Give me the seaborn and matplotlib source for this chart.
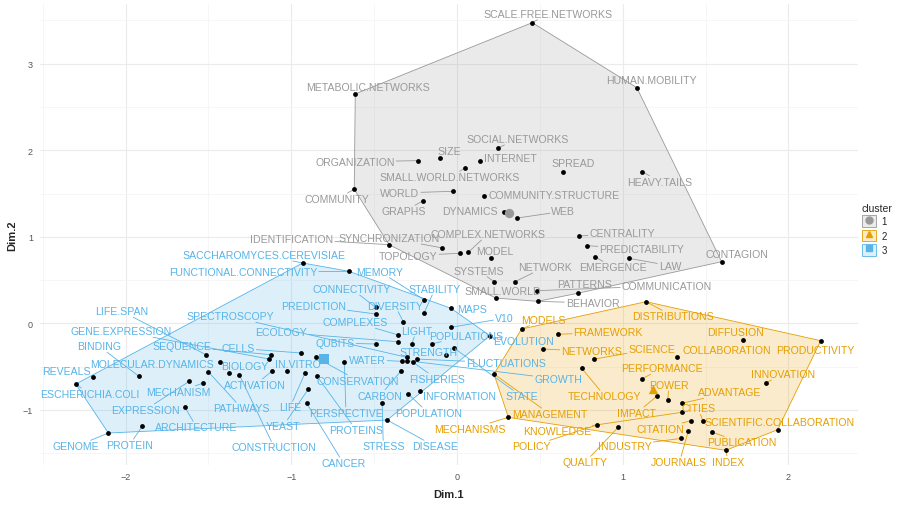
import numpy as np
import pandas as pd
import matplotlib
matplotlib.use("Agg")
import matplotlib.pyplot as plt
import seaborn as sns
from matplotlib.patches import Patch
from matplotlib.lines import Line2D
from matplotlib.colors import to_rgba

# ---- cluster 1 (grey) ----
words1 = ["SCALE.FREE.NETWORKS", "METABOLIC.NETWORKS", "HUMAN.MOBILITY", "SOCIAL.NETWORKS", "SIZE",
          "ORGANIZATION", "INTERNET", "SMALL.WORLD.NETWORKS", "SPREAD", "HEAVY.TAILS", "COMMUNITY",
          "WORLD", "GRAPHS", "COMMUNITY.STRUCTURE", "DYNAMICS", "WEB", "IDENTIFICATION",
          "SYNCHRONIZATION", "TOPOLOGY", "COMPLEX.NETWORKS", "MODEL", "SYSTEMS", "NETWORK",
          "CENTRALITY", "PREDICTABILITY", "EMERGENCE", "LAW", "CONTAGION", "SMALL.WORLD",
          "PATTERNS", "BEHAVIOR", "COMMUNICATION"]
x1 = [0.454, -0.614, 1.085, 0.246, -0.103, -0.234, 0.139, 0.048, 0.642, 1.118, -0.620, -0.022,
      -0.203, 0.161, 0.284, 0.364, -0.410, -0.089, 0.018, 0.068, 0.203, 0.225, 0.350, 0.738,
      0.786, 0.833, 1.036, 1.597, 0.234, 0.728, 0.487, 0.481]
y1 = [3.475, 2.651, 2.724, 2.027, 1.914, 1.880, 1.873, 1.795, 1.746, 1.753, 1.549, 1.526,
      1.417, 1.475, 1.283, 1.217, 0.909, 0.871, 0.809, 0.821, 0.751, 0.481, 0.481, 1.009,
      0.897, 0.770, 0.751, 0.712, 0.292, 0.347, 0.254, 0.377]
lx1 = [0.549, -0.537, 1.175, 0.368, -0.048, -0.616, 0.320, -0.042, 0.702, 1.225, -0.726, -0.344,
       -0.320, 0.585, 0.078, 0.642, -0.996, -0.410, -0.294, 0.187, 0.229, 0.129, 0.531, 0.998,
       1.115, 0.940, 1.285, 1.688, 0.278, 0.772, 0.819, 1.266]
ly1 = [3.578, 2.732, 2.813, 2.131, 1.995, 1.868, 1.908, 1.688, 1.853, 1.637, 1.437, 1.506,
       1.295, 1.483, 1.295, 1.295, 0.975, 0.986, 0.782, 1.032, 0.839, 0.608, 0.651, 1.044,
       0.859, 0.647, 0.666, 0.801, 0.373, 0.454, 0.235, 0.435]

# ---- cluster 2 (orange) ----
words2 = ["DISTRIBUTIONS", "MODELS", "FRAMEWORK", "NETWORKS", "SCIENCE", "COLLABORATION",
          "DIFFUSION", "PRODUCTIVITY", "TECHNOLOGY", "PERFORMANCE", "INNOVATION", "POWER",
          "IMPACT", "ADVANTAGE", "CITIES", "KNOWLEDGE", "SCIENTIFIC.COLLABORATION", "CITATION",
          "PUBLICATION", "INDEX", "MECHANISMS", "MANAGEMENT", "QUALITY", "POLICY", "INDUSTRY",
          "JOURNALS"]
x2 = [1.141, 0.390, 0.608, 0.517, 0.829, 1.330, 1.728, 2.195, 0.753, 1.115, 1.863, 1.272,
      1.205, 1.356, 1.483, 1.356, 1.935, 1.410, 1.541, 1.622, 0.310, 0.223, 0.973, 0.843,
      1.352, 1.396]
y2 = [0.250, -0.066, -0.127, -0.297, -0.413, -0.386, -0.193, -0.201, -0.520, -0.644, -0.690,
      -0.883, -0.844, -0.925, -1.126, -1.029, -1.230, -1.126, -1.260, -1.468, -1.087, -0.586,
      -1.202, -1.176, -1.330, -1.242]
lx2 = [1.305, 0.521, 0.913, 0.813, 1.175, 1.631, 1.678, 2.161, 0.893, 1.235, 1.969, 1.279,
       1.085, 1.648, 1.456, 0.602, 1.949, 1.225, 1.718, 1.637, 0.078, 0.561, 0.772, 0.447,
       1.014, 1.342]
ly2 = [0.081, 0.042, -0.104, -0.324, -0.297, -0.309, -0.097, -0.309, -0.844, -0.520, -0.586,
       -0.713, -1.037, -0.798, -0.983, -1.242, -1.145, -1.222, -1.376, -1.600, -1.222, -1.049,
       -1.607, -1.422, -1.415, -1.607]

# ---- cluster 3 (blue) ----
words3 = ["SACCHAROMYCES.CEREVISIAE", "FUNCTIONAL.CONNECTIVITY", "MEMORY", "STABILITY",
          "CONNECTIVITY", "PREDICTION", "DIVERSITY", "MAPS", "COMPLEXES", "V10", "LIGHT",
          "POPULATIONS", "EVOLUTION", "ECOLOGY", "QUBITS", "SPECTROSCOPY", "LIFE.SPAN",
          "GENE.EXPRESSION", "BINDING", "SEQUENCE", "CELLS", "MOLECULAR.DYNAMICS", "REVEALS",
          "BIOLOGY", "IN.VITRO", "WATER", "STRENGTH", "FLUCTUATIONS", "ESCHERICHIA.COLI",
          "MECHANISM", "ACTIVATION", "CONSERVATION", "FISHERIES", "GROWTH", "CARBON",
          "INFORMATION", "STATE", "EXPRESSION", "PATHWAYS", "LIFE", "PERSPECTIVE", "POPULATION",
          "ARCHITECTURE", "YEAST", "PROTEINS", "GENOME", "PROTEIN", "CONSTRUCTION", "STRESS",
          "DISEASE", "CANCER"]
x3 = [-0.931, -0.652, -0.199, -0.199, -0.491, -0.491, -0.324, -0.036, -0.354, -0.036, -0.273,
      -0.153, 0.199, -0.354, -0.491, -0.304, -1.515, -1.133, -1.919, -1.123, -0.941, -1.430,
      -2.195, -1.376, -1.028, -0.334, -0.066, -0.243, -2.301, -1.531, -1.118, -0.853, -0.264,
      -0.300, -0.340, -0.223, -0.018, -1.616, -1.501, -0.917, -0.680, -0.294, -1.642, -0.897,
      -0.847, -2.104, -1.899, -1.314, -0.451, -0.421, -0.907]
y3 = [0.697, 0.601, 0.273, 0.119, 0.185, 0.108, 0.018, 0.173, -0.135, -0.046, -0.239,
      -0.239, -0.143, -0.213, -0.239, -0.393, -0.363, -0.413, -0.613, -0.363, -0.343, -0.444,
      -0.624, -0.578, -0.555, -0.439, -0.363, -0.413, -0.702, -0.690, -0.555, -0.393, -0.451,
      -0.432, -0.555, -0.779, -0.286, -0.671, -0.560, -0.575, -0.451, -0.817, -0.971, -0.760,
      -0.606, -1.268, -1.191, -0.594, -0.925, -1.118, -0.925]
lx3 = [-1.165, -1.291, -0.465, -0.133, -0.635, -0.867, -0.374, 0.089, -0.616, 0.284, -0.245,
       0.055, 0.404, -1.062, -0.736, -1.370, -2.024, -2.028, -2.159, -1.661, -1.320, -1.842,
       -2.355, -1.279, -0.958, -0.541, -0.173, 0.296, -2.215, -1.682, -1.219, -0.596, -0.123,
       0.611, -0.465, 0.018, 0.390, -1.883, -1.299, -1.008, -0.670, -0.173, -1.571, -1.048,
       -0.610, -2.299, -1.978, -1.103, -0.445, -0.133, -0.686]
ly3 = [0.790, 0.593, 0.597, 0.397, 0.397, 0.203, 0.203, 0.165, 0.012, 0.058, -0.086,
       -0.143, -0.205, -0.104, -0.228, 0.081, 0.139, -0.092, -0.266, -0.266, -0.289, -0.471,
       -0.555, -0.490, -0.471, -0.421, -0.335, -0.459, -0.817, -0.791, -0.713, -0.664, -0.644,
       -0.644, -0.837, -0.837, -0.844, -1.002, -0.983, -0.971, -1.037, -1.037, -1.202, -1.184,
       -1.230, -1.422, -1.407, -1.434, -1.422, -1.422, -1.615]

colors = {"1": "#999999", "2": "#E69F00", "3": "#56B4E9"}
markers = {"1": "o", "2": "^", "3": "s"}

frames = []
for k, (w, x, y, lx, ly) in {"1": (words1, x1, y1, lx1, ly1),
                              "2": (words2, x2, y2, lx2, ly2),
                              "3": (words3, x3, y3, lx3, ly3)}.items():
    frames.append(pd.DataFrame({"word": w, "Dim.1": x, "Dim.2": y, "lx": lx, "ly": ly, "cluster": k}))
df = pd.concat(frames, ignore_index=True)
centers = df.groupby("cluster")[["Dim.1", "Dim.2"]].mean().reset_index()


def convex_hull(points):
    pts = sorted(set(points))
    def cross(o, a, b):
        return (a[0] - o[0]) * (b[1] - o[1]) - (a[1] - o[1]) * (b[0] - o[0])
    lower, upper = [], []
    for p in pts:
        while len(lower) >= 2 and cross(lower[-2], lower[-1], p) <= 0:
            lower.pop()
        lower.append(p)
    for p in reversed(pts):
        while len(upper) >= 2 and cross(upper[-2], upper[-1], p) <= 0:
            upper.pop()
        upper.append(p)
    return lower[:-1] + upper[:-1]


sns.set_theme(style="whitegrid")
plt.rcParams["font.family"] = ["Liberation Sans", "DejaVu Sans"]
title_font = ["Liberation Sans Narrow", "Liberation Sans"]

fig, ax = plt.subplots(figsize=(9.07, 5.06), dpi=100)
ax.set_position([0.044, 0.079, 0.902, 0.911])
ax.set_xlim(-2.517, 2.42)
ax.set_ylim(-1.638, 3.69)

ax.set_xticks([-2, -1, 0, 1, 2])
ax.set_yticks([-1, 0, 1, 2, 3])
ax.set_xticks(np.arange(-2.5, 2.5, 1.0), minor=True)
ax.set_yticks(np.arange(-1.5, 4.0, 1.0), minor=True)
ax.grid(which="major", color="#EBEBEB", lw=0.8)
ax.grid(which="minor", color="#F3F3F3", lw=0.5)
for s in ax.spines.values():
    s.set_visible(False)
ax.tick_params(which="both", length=0, labelsize=6.5, labelcolor="#555555", pad=5)

# hulls
for k, g in df.groupby("cluster"):
    h = np.array(convex_hull(list(zip(g["Dim.1"], g["Dim.2"]))))
    ax.fill(h[:, 0], h[:, 1], facecolor=to_rgba(colors[k], 0.2), edgecolor=colors[k], lw=0.6, zorder=1)

# points
sns.scatterplot(data=df, x="Dim.1", y="Dim.2", color="black", s=12, linewidth=0, legend=False,
                ax=ax, zorder=3)

# labels with segments
fig.canvas.draw()
renderer = fig.canvas.get_renderer()
for _, r in df.iterrows():
    col = colors[r["cluster"]]
    t = ax.text(r["lx"], r["ly"], r["word"], ha="center", va="center", fontsize=7.6,
                color=col, zorder=4)
    bb = t.get_window_extent(renderer)
    cx, cy = (bb.x0 + bb.x1) / 2, (bb.y0 + bb.y1) / 2
    hw, hh = bb.width / 2 + 1.5, bb.height / 2 + 1
    px, py = ax.transData.transform((r["Dim.1"], r["Dim.2"]))
    dx, dy = px - cx, py - cy
    tt = min(hw / abs(dx) if dx else np.inf, hh / abs(dy) if dy else np.inf)
    if tt < 1 and (1 - tt) * np.hypot(dx, dy) > 5:
        sx, sy = cx + dx * tt, cy + dy * tt
        (dsx, dsy) = ax.transData.inverted().transform((sx, sy))
        ax.plot([dsx, r["Dim.1"]], [dsy, r["Dim.2"]], color=col, lw=0.6, zorder=2)

# cluster centers
for _, c in centers.iterrows():
    k = c["cluster"]
    sns.scatterplot(x=[c["Dim.1"]], y=[c["Dim.2"]], marker=markers[k], color=colors[k], s=45,
                    linewidth=0, legend=False, ax=ax, zorder=5)

ax.set_xlabel("Dim.1", fontsize=8, fontweight="bold", family=title_font, labelpad=6)
ax.set_ylabel("Dim.2", fontsize=8, fontweight="bold", family=title_font, labelpad=4)

handles = [(Patch(facecolor=to_rgba(colors[k], 0.2), edgecolor=colors[k], lw=0.6),
            Line2D([], [], marker=markers[k], color=colors[k], linestyle="", markersize=5))
           for k in ["1", "2", "3"]]
leg = fig.legend(handles, ["1", "2", "3"], title="cluster", loc="upper left",
                 bbox_to_anchor=(858 / 907, 1 - 200 / 506), frameon=False, fontsize=7,
                 title_fontsize=7.5, handlelength=1.5, handleheight=1.5, labelspacing=0.25,
                 handletextpad=0.5, borderaxespad=0, alignment="left")

fig.savefig("out.png", dpi=100)
